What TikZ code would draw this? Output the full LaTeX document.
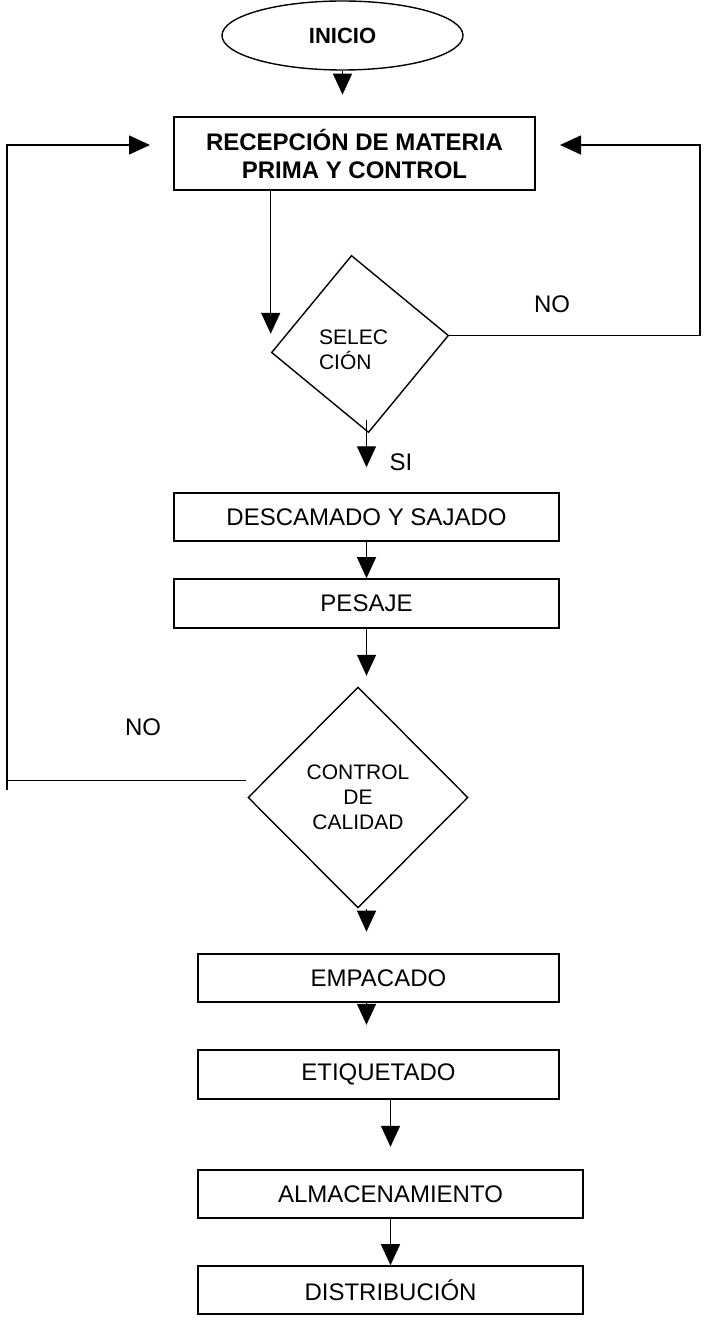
\documentclass[tikz,border=0pt]{standalone}
\usepackage{fontspec}
\setmainfont{Liberation Sans}
\usetikzlibrary{shapes.geometric,arrows.meta,calc}

\begin{document}
\begin{tikzpicture}[x=0.5pt,y=-0.5pt,
  caja/.style={draw,rectangle,line width=0.8pt,inner sep=0pt,font=\fontsize{12}{14}\selectfont},
  decision/.style={draw,diamond,line width=0.7pt,inner sep=0pt},
  flecha/.style={line width=0.7pt,-{Triangle[width=9.5pt,length=10.5pt]}},
  etiq/.style={font=\fontsize{12}{14}\selectfont}]

\useasboundingbox (0,0) rectangle (703,1320);

\node[draw,ellipse,line width=0.7pt,minimum width=120.5pt,minimum height=34.5pt,inner sep=0pt,font=\bfseries\fontsize{11}{13}\selectfont] (ini) at (342.5,35.5) {INICIO};

\node[caja,minimum width=180.5pt,minimum height=36.5pt,align=center,font=\bfseries\fontsize{12}{14}\selectfont] (rec) at (354.5,153.5) {RECEPCIÓN DE MATERIA\\PRIMA Y CONTROL};

\node[decision,rotate=5.5,minimum width=89pt,minimum height=89pt] (sel) at (360,344) {};
\node[align=left,font=\fontsize{10.5}{12.5}\selectfont] (seltxt) at (353.5,350) {SELEC\\CIÓN};

\node[caja,minimum width=192.5pt,minimum height=24pt] (desc) at (366.5,517) {DESCAMADO Y SAJADO};
\node[caja,minimum width=192.5pt,minimum height=24.5pt] (pes) at (366.5,603.5) {PESAJE};

\node[decision,minimum width=110pt,minimum height=110.5pt,align=center,font=\fontsize{10.5}{12.5}\selectfont] (ctl) at (358,797.5) {CONTROL\\DE\\CALIDAD};

\node[caja,minimum width=180.5pt,minimum height=24pt] (emp) at (378.5,978) {EMPACADO};
\node[caja,minimum width=180.5pt,minimum height=24.5pt] (eti) at (378.5,1074.5) {ETIQUETADO};
\node[caja,minimum width=192.5pt,minimum height=24pt] (alm) at (390.5,1194) {ALMACENAMIENTO};
\node[caja,minimum width=192.5pt,minimum height=24pt] (dis) at (390.5,1290) {DISTRIBUCIÓN};

% etiquetas de las decisiones
\node[etiq] (nosel) at (552,304) {NO};
\node[etiq] (si) at (401,462) {SI};
\node[etiq] (noctl) at (143,727) {NO};

\coordinate (der) at (700,145);
\coordinate (izq) at (7,145);

\draw[flecha] (ini.south) -- ++(0,24);
\draw[flecha] (rec.south -| sel.west) -- ++(0,143);
\draw[flecha] ($(sel.south -| desc.north)+(0,-13)$) -- ++(0,47);
\draw[flecha] (desc.south) -- (pes.north);
\draw[flecha] (pes.south) -- ++(0,47);
\draw[flecha] (ctl.south -| pes.south) -- ++(0,23);
\draw[flecha] (emp.south -| pes.south) -- ++(0,22);
\draw[flecha] (eti.south -| alm.north) -- ++(0,47);
\draw[flecha] (alm.south) -- (dis.north);

% retornos
\draw[flecha] (sel.east) -| (der) -- ++(-140,0);
\draw[flecha] ($(ctl.west)+(-1,-17)$) -| (izq) -- ++(143,0);
\draw[line width=0.7pt] ($(izq)+(0,635)$) -- ++(0,10);

\end{tikzpicture}
\end{document}
